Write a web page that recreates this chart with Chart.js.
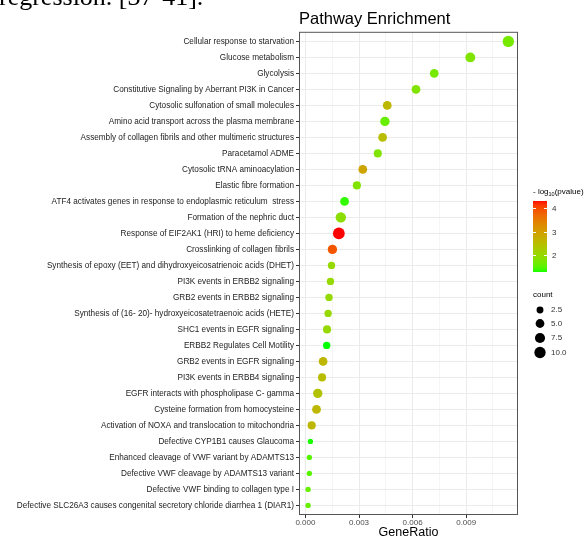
<!DOCTYPE html>
<html>
<head>
<meta charset="utf-8">
<script src="https://cdn.jsdelivr.net/npm/chart.js@4.4.1/dist/chart.umd.min.js"></script>
<style>
  html, body { margin: 0; padding: 0; background: #fff; }
  #page { position: relative; width: 584px; height: 539px; overflow: hidden; }
  #chart { position: absolute; left: 0; top: 0; }
  #cut { position: absolute; left: -1px; top: -16px; font: 26px/26px "Liberation Serif", serif; color: #000; white-space: nowrap; }
</style>
</head>
<body>
<div id="page">
  <canvas id="chart" width="584" height="539"></canvas>
  <div id="cut">regression. [37-41].</div>
</div>
<script>
const pathways = [
  "Cellular response to starvation",
  "Glucose metabolism",
  "Glycolysis",
  "Constitutive Signaling by Aberrant PI3K in Cancer",
  "Cytosolic sulfonation of small molecules",
  "Amino acid transport across the plasma membrane",
  "Assembly of collagen fibrils and other multimeric structures",
  "Paracetamol ADME",
  "Cytosolic tRNA aminoacylation",
  "Elastic fibre formation",
  "ATF4 activates genes in response to endoplasmic reticulum  stress",
  "Formation of the nephric duct",
  "Response of EIF2AK1 (HRI) to heme deficiency",
  "Crosslinking of collagen fibrils",
  "Synthesis of epoxy (EET) and dihydroxyeicosatrienoic acids (DHET)",
  "PI3K events in ERBB2 signaling",
  "GRB2 events in ERBB2 signaling",
  "Synthesis of (16- 20)- hydroxyeicosatetraenoic acids (HETE)",
  "SHC1 events in EGFR signaling",
  "ERBB2 Regulates Cell Motility",
  "GRB2 events in EGFR signaling",
  "PI3K events in ERBB4 signaling",
  "EGFR interacts with phospholipase C- gamma",
  "Cysteine formation from homocysteine",
  "Activation of NOXA and translocation to mitochondria",
  "Defective CYP1B1 causes Glaucoma",
  "Enhanced cleavage of VWF variant by ADAMTS13",
  "Defective VWF cleavage by ADAMTS13 variant",
  "Defective VWF binding to collagen type I",
  "Defective SLC26A3 causes congenital secretory chloride diarrhea 1 (DIAR1)"
];

const geneRatio = [
  0.01136, 0.00923, 0.00721, 0.00619, 0.00458, 0.00445, 0.00432, 0.00405,
  0.00321, 0.00288, 0.00219, 0.00198, 0.00187, 0.00151, 0.00146, 0.0014,
  0.00132, 0.00127, 0.00121, 0.00119, 0.00099, 0.00093, 0.00069, 0.00062,
  0.00035, 0.00028, 0.00022, 0.00022, 0.00015, 0.00015
];

const counts = [
  10, 7, 5, 5, 5, 6, 5, 4, 5, 4, 5, 8, 11, 6, 3,
  3, 3, 3, 4, 3, 5, 4, 6, 5, 4, 1, 1, 1, 1, 1
];

const logP = [
  1.7, 1.8, 1.7, 1.8, 2.6, 1.6, 2.5, 1.8, 2.9, 1.8, 1.35, 1.9, 4.31, 3.9, 2.0,
  2.0, 2.0, 2.0, 2.0, 1.28, 2.6, 2.5, 2.4, 2.6, 2.6, 1.3, 1.5, 1.5, 1.6, 1.6
];

const xTicks = [0, 0.003, 0.006, 0.009];
const xMinor = [0.0015, 0.0045, 0.0075, 0.0105];
const colorTicks = [2, 3, 4];
const sizeBreaks = [2.5, 5, 7.5, 10];

const pMin = Math.min(...logP);
const pMax = Math.max(...logP);

// green -> red in Lab, like ggplot's gradient
function toLin(c) { c /= 255; return c <= 0.04045 ? c / 12.92 : Math.pow((c + 0.055) / 1.055, 2.4); }
function fromLin(c) { c = c <= 0.0031308 ? 12.92 * c : 1.055 * Math.pow(c, 1 / 2.4) - 0.055; return Math.round(Math.max(0, Math.min(1, c)) * 255); }
function rgbToLab(rgb) {
  const [r, g, b] = rgb.map(toLin);
  let x = (0.4124 * r + 0.3576 * g + 0.1805 * b) / 0.95047;
  let y = 0.2126 * r + 0.7152 * g + 0.0722 * b;
  let z = (0.0193 * r + 0.1192 * g + 0.9505 * b) / 1.08883;
  const f = t => t > 0.008856 ? Math.cbrt(t) : 7.787 * t + 16 / 116;
  x = f(x); y = f(y); z = f(z);
  return [116 * y - 16, 500 * (x - y), 200 * (y - z)];
}
function labToRgb(lab) {
  let y = (lab[0] + 16) / 116, x = lab[1] / 500 + y, z = y - lab[2] / 200;
  const g = t => t * t * t > 0.008856 ? t * t * t : (t - 16 / 116) / 7.787;
  x = g(x) * 0.95047; y = g(y); z = g(z) * 1.08883;
  const r = 3.2406 * x - 1.5372 * y - 0.4986 * z;
  const gg = -0.9689 * x + 1.8758 * y + 0.0415 * z;
  const b = 0.0557 * x - 0.204 * y + 1.057 * z;
  return "rgb(" + fromLin(r) + "," + fromLin(gg) + "," + fromLin(b) + ")";
}
const labLow = rgbToLab([0, 255, 0]);
const labHigh = rgbToLab([255, 0, 0]);
function pColor(v) {
  const t = Math.max(0, Math.min(1, (v - pMin) / (pMax - pMin)));
  return labToRgb(labLow.map((l, i) => l + (labHigh[i] - l) * t));
}
function countRadius(c) { return 1.25 + 1.4 * Math.sqrt(c); }

const points = geneRatio.map((v, i) => ({ x: v, y: i }));

const legendPlugin = {
  id: "sideLegends",
  afterDatasetsDraw(chart) {
    const ctx = chart.ctx;
    const a = chart.chartArea;
    ctx.save();
    // panel border
    ctx.strokeStyle = "#555";
    ctx.lineWidth = 1;
    ctx.strokeRect(a.left + 0.5, a.top + 0.5, a.right - a.left - 1, a.bottom - a.top - 1);

    const lx = a.right + 15;
    ctx.fillStyle = "#000";
    ctx.textBaseline = "middle";
    ctx.textAlign = "left";
    ctx.font = "8px 'Liberation Sans', Arial";
    ctx.fillText("- log", lx, 192);
    let w = ctx.measureText("- log").width;
    ctx.font = "5.5px 'Liberation Sans', Arial";
    ctx.fillText("10", lx + w, 194.5);
    w += ctx.measureText("10").width;
    ctx.font = "8px 'Liberation Sans', Arial";
    ctx.fillText("(pvalue)", lx + w, 192);

    // colour bar
    const barTop = 201, barBot = 272, barW = 14;
    const perUnit = (barBot - barTop) / (pMax - pMin);
    for (let y = barTop; y < barBot; y++) {
      const v = pMax - (y - barTop + 0.5) / perUnit;
      ctx.fillStyle = pColor(v);
      ctx.fillRect(lx, y, barW, 1);
    }
    ctx.strokeStyle = "#fff";
    ctx.fillStyle = "#333";
    colorTicks.forEach(t => {
      const y = Math.round(barBot - (t - pMin) * perUnit) + 0.5;
      ctx.beginPath();
      ctx.moveTo(lx, y); ctx.lineTo(lx + 3, y);
      ctx.moveTo(lx + barW - 3, y); ctx.lineTo(lx + barW, y);
      ctx.stroke();
      ctx.fillText(String(t), lx + barW + 5, y);
    });

    // size legend
    ctx.fillStyle = "#000";
    ctx.fillText("count", lx, 295);
    const rowY = [310, 323.5, 338, 352.5];
    sizeBreaks.forEach((s, i) => {
      ctx.beginPath();
      ctx.arc(lx + 7, rowY[i], countRadius(s), 0, Math.PI * 2);
      ctx.fillStyle = "#000";
      ctx.fill();
      ctx.fillStyle = "#333";
      ctx.fillText(s.toFixed(1), lx + 18, rowY[i]);
    });
    ctx.restore();
  }
};

new Chart(document.getElementById("chart"), {
  type: "scatter",
  data: {
    datasets: [
      {
        data: points,
        pointBackgroundColor: logP.map(pColor),
        pointBorderWidth: 0,
        pointRadius: counts.map(countRadius),
        pointHoverRadius: counts.map(countRadius),
      },
    ],
  },
  options: {
    responsive: false,
    animation: false,
    layout: { padding: { top: 0, right: 66, bottom: 0, left: 0 } },
    plugins: {
      legend: { display: false },
      tooltip: { enabled: false },
      title: {
        display: true,
        text: "Pathway Enrichment",
        align: "start",
        fullSize: false,
        color: "#000",
        font: { family: "'Liberation Sans', Arial", size: 16.5, weight: "normal" },
        padding: { top: 10, bottom: 2 },
      },
    },
    scales: {
      x: {
        type: "linear",
        min: -0.00036,
        max: 0.0119,
        afterBuildTicks: (s) => {
          s.ticks = xTicks.concat(xMinor).sort((p, q) => p - q).map((v) => ({ value: v }));
        },
        afterFit: (s) => {
          s.height = 24;
        },
        ticks: {
          autoSkip: false,
          maxRotation: 0,
          padding: 1,
          color: "#4d4d4d",
          font: { family: "'Liberation Sans', Arial", size: 8, lineHeight: 1 },
          callback: (v) => (xTicks.includes(v) ? v.toFixed(3) : ""),
        },
        grid: {
          color: "#ebebeb",
          lineWidth: (c) => (c.tick && xTicks.includes(c.tick.value) ? 1 : 0.5),
          tickColor: (c) => (c.tick && xTicks.includes(c.tick.value) ? "#333" : "rgba(0,0,0,0)"),
          tickLength: 3,
        },
        border: { display: false },
        title: {
          display: true,
          text: "GeneRatio",
          color: "#000",
          font: { family: "'Liberation Sans', Arial", size: 12.5, lineHeight: 1 },
          padding: { top: 0, bottom: 0 },
        },
      },
      y: {
        type: "linear",
        reverse: true,
        min: -0.6,
        max: pathways.length - 0.4,
        afterBuildTicks: (s) => {
          s.ticks = pathways.map((_, i) => ({ value: i }));
        },
        afterFit: (s) => {
          s.width = 299;
        },
        ticks: {
          autoSkip: false,
          padding: 2,
          color: "#222",
          font: { family: "'Liberation Sans', Arial", size: 8.2 },
          callback: (v) => pathways[v],
        },
        grid: {
          color: "#ebebeb",
          lineWidth: 1,
          tickColor: "#333",
          tickLength: 3,
        },
        border: { display: false },
      },
    },
  },
  plugins: [legendPlugin],
});
</script>
</body>
</html>
